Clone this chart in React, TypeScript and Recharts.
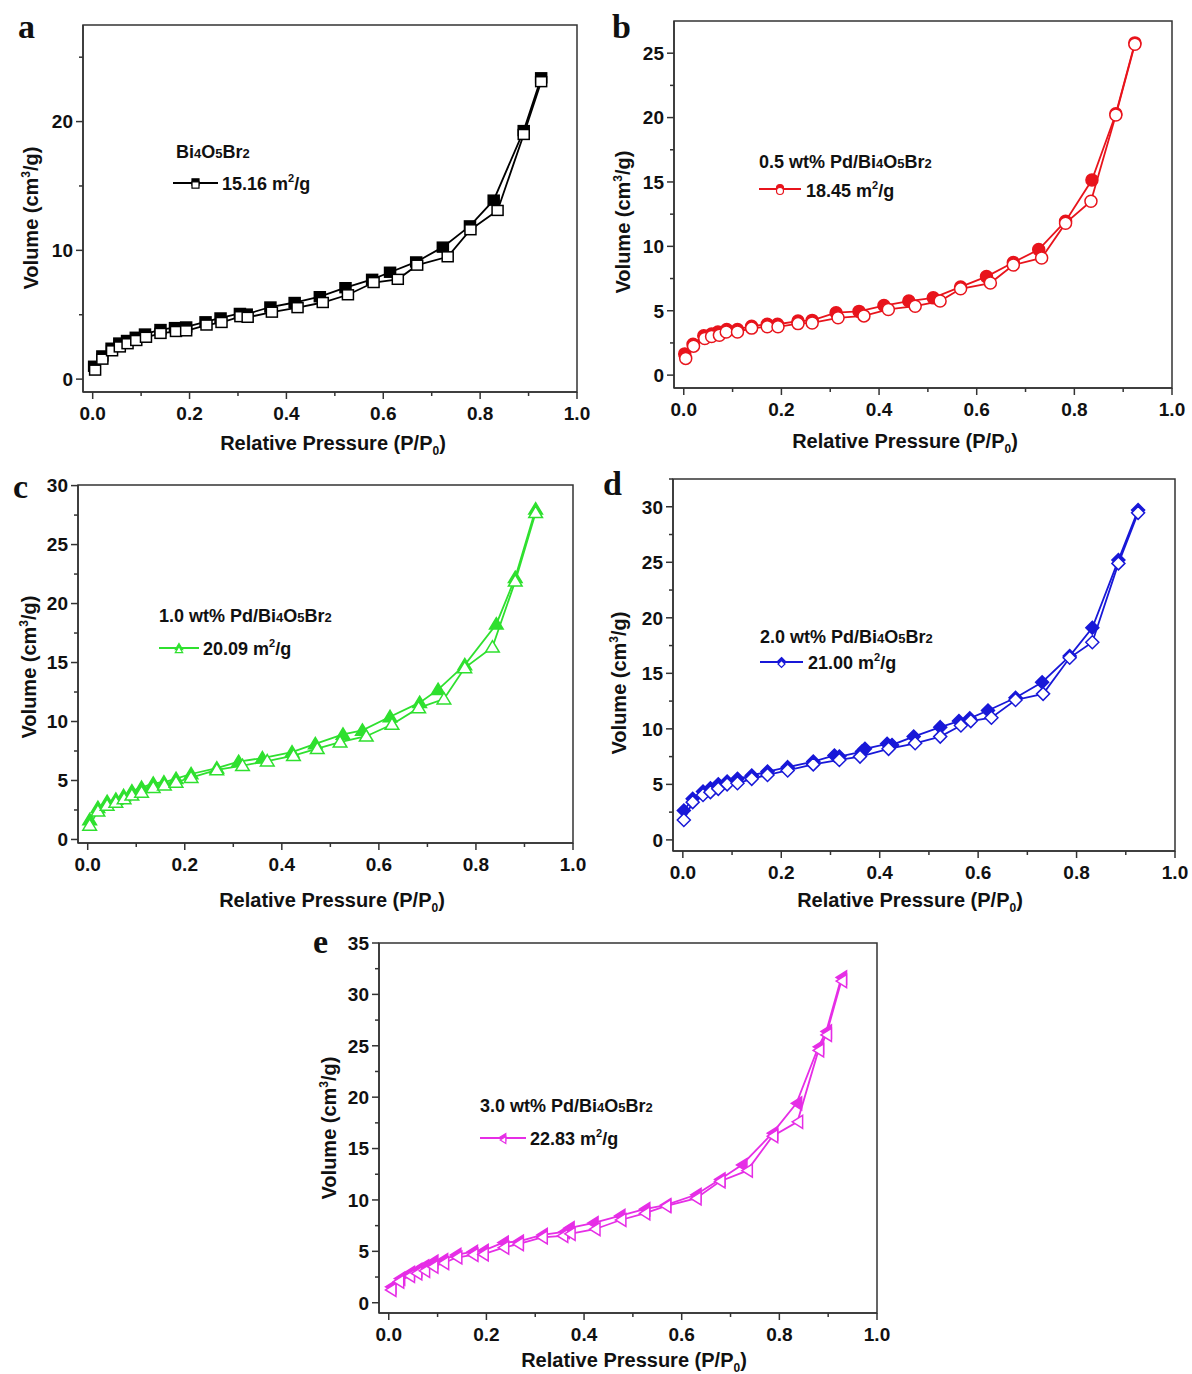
import React from 'react';
import { LineChart, Line, XAxis, YAxis, ReferenceArea } from 'recharts';

// ---------------- data (relative pressure P/P0, volume cm3/g) ----------------
const aFilledP = [0.003, 0.02, 0.039, 0.055, 0.071, 0.089, 0.108, 0.14, 0.17, 0.193, 0.233, 0.264, 0.304, 0.318, 0.367, 0.417, 0.469, 0.522, 0.577, 0.614, 0.668, 0.723, 0.779, 0.828, 0.89, 0.926];
const aFilledV = [1.0, 1.8, 2.4, 2.8, 3.0, 3.25, 3.5, 3.85, 4.0, 4.05, 4.45, 4.75, 5.1, 5.05, 5.6, 5.95, 6.4, 7.1, 7.75, 8.3, 9.1, 10.25, 11.9, 13.9, 19.3, 23.4];
const aOpenP = [0.005, 0.02, 0.04, 0.056, 0.072, 0.09, 0.11, 0.14, 0.172, 0.193, 0.235, 0.266, 0.305, 0.32, 0.37, 0.423, 0.475, 0.527, 0.58, 0.63, 0.67, 0.733, 0.78, 0.836, 0.89, 0.926];
const aOpenV = [0.7, 1.55, 2.2, 2.5, 2.75, 3.0, 3.25, 3.55, 3.7, 3.75, 4.2, 4.4, 4.85, 4.8, 5.2, 5.55, 5.95, 6.55, 7.5, 7.75, 8.85, 9.5, 11.6, 13.1, 19.0, 23.1];

const bFilledP = [0.002, 0.019, 0.041, 0.057, 0.07, 0.088, 0.11, 0.139, 0.171, 0.192, 0.234, 0.263, 0.312, 0.359, 0.41, 0.461, 0.511, 0.567, 0.62, 0.675, 0.727, 0.782, 0.836, 0.885, 0.924];
const bFilledV = [1.65, 2.4, 3.05, 3.2, 3.35, 3.55, 3.55, 3.8, 3.95, 3.95, 4.2, 4.25, 4.85, 4.95, 5.4, 5.75, 6.0, 6.85, 7.65, 8.75, 9.75, 11.95, 15.15, 20.3, 25.8];
const bOpenP = [0.004, 0.02, 0.043, 0.057, 0.073, 0.087, 0.11, 0.139, 0.171, 0.193, 0.234, 0.263, 0.316, 0.369, 0.419, 0.474, 0.525, 0.567, 0.628, 0.675, 0.733, 0.782, 0.834, 0.885, 0.924];
const bOpenV = [1.3, 2.25, 2.85, 3.0, 3.1, 3.35, 3.35, 3.65, 3.75, 3.75, 4.0, 4.05, 4.45, 4.6, 5.1, 5.35, 5.75, 6.7, 7.15, 8.55, 9.1, 11.8, 13.5, 20.2, 25.7];

const cFilledP = [0.004, 0.021, 0.04, 0.058, 0.074, 0.091, 0.111, 0.135, 0.157, 0.182, 0.213, 0.266, 0.311, 0.36, 0.421, 0.469, 0.526, 0.566, 0.623, 0.684, 0.722, 0.777, 0.842, 0.881, 0.923];
const cFilledV = [1.65, 2.7, 3.2, 3.4, 3.7, 4.1, 4.4, 4.75, 4.85, 5.15, 5.55, 6.05, 6.6, 6.9, 7.4, 8.1, 8.9, 9.25, 10.4, 11.6, 12.7, 14.8, 18.25, 22.2, 28.0];
const cOpenP = [0.004, 0.021, 0.04, 0.058, 0.075, 0.091, 0.111, 0.135, 0.158, 0.182, 0.213, 0.266, 0.319, 0.37, 0.424, 0.473, 0.52, 0.574, 0.627, 0.682, 0.734, 0.777, 0.834, 0.881, 0.923];
const cOpenV = [1.2, 2.4, 2.9, 3.15, 3.45, 3.75, 4.0, 4.4, 4.6, 4.85, 5.25, 5.9, 6.25, 6.65, 7.1, 7.7, 8.25, 8.75, 9.75, 11.15, 11.9, 14.55, 16.3, 21.9, 27.7];

const dFilledP = [0.002, 0.02, 0.041, 0.056, 0.072, 0.09, 0.111, 0.14, 0.172, 0.213, 0.265, 0.308, 0.318, 0.364, 0.37, 0.415, 0.425, 0.469, 0.523, 0.561, 0.583, 0.62, 0.676, 0.73, 0.786, 0.832, 0.885, 0.925];
const dFilledV = [2.65, 3.7, 4.35, 4.65, 5.0, 5.25, 5.5, 5.8, 6.15, 6.55, 7.05, 7.6, 7.5, 7.95, 8.2, 8.65, 8.55, 9.3, 10.15, 10.7, 10.95, 11.65, 12.8, 14.2, 16.55, 19.1, 25.2, 29.7];
const dOpenP = [0.002, 0.02, 0.041, 0.056, 0.072, 0.09, 0.111, 0.14, 0.172, 0.213, 0.265, 0.318, 0.36, 0.418, 0.472, 0.523, 0.565, 0.585, 0.627, 0.676, 0.732, 0.786, 0.832, 0.885, 0.925];
const dOpenV = [1.8, 3.4, 4.05, 4.3, 4.6, 5.0, 5.1, 5.5, 5.85, 6.25, 6.8, 7.2, 7.5, 8.2, 8.7, 9.3, 10.3, 10.7, 11.0, 12.6, 13.15, 16.4, 17.8, 24.9, 29.45];

const eFilledP = [0.004, 0.022, 0.042, 0.057, 0.071, 0.09, 0.11, 0.137, 0.171, 0.193, 0.234, 0.265, 0.314, 0.359, 0.369, 0.418, 0.473, 0.524, 0.567, 0.629, 0.678, 0.723, 0.786, 0.835, 0.88, 0.896, 0.927];
const eFilledV = [1.55, 2.35, 2.9, 3.2, 3.55, 4.0, 4.15, 4.65, 4.95, 5.05, 5.85, 5.95, 6.6, 6.9, 7.25, 7.75, 8.45, 9.1, 9.5, 10.5, 12.0, 13.4, 16.5, 19.4, 24.9, 26.4, 31.65];
const eOpenP = [0.004, 0.02, 0.042, 0.057, 0.073, 0.09, 0.112, 0.139, 0.172, 0.193, 0.235, 0.265, 0.314, 0.356, 0.371, 0.422, 0.475, 0.524, 0.567, 0.629, 0.678, 0.734, 0.786, 0.837, 0.88, 0.896, 0.927];
const eOpenV = [1.25, 2.05, 2.6, 2.85, 3.1, 3.5, 3.85, 4.4, 4.65, 4.7, 5.35, 5.7, 6.35, 6.5, 6.7, 7.15, 8.05, 8.7, 9.4, 10.15, 11.8, 12.85, 16.2, 17.6, 24.55, 26.05, 31.3];

// ---------------- ticks & labels ----------------
const pressureTicks = [0, 0.1, 0.2, 0.3, 0.4, 0.5, 0.6, 0.7, 0.8, 0.9, 1.0];
const aVolumeTicks = [0, 5, 10, 15, 20, 25];
const bVolumeTicks = [0, 2.5, 5, 7.5, 10, 12.5, 15, 17.5, 20, 22.5, 25];
const cVolumeTicks = [0, 2.5, 5, 7.5, 10, 12.5, 15, 17.5, 20, 22.5, 25, 27.5, 30];
const dVolumeTicks = [0, 2.5, 5, 7.5, 10, 12.5, 15, 17.5, 20, 22.5, 25, 27.5, 30, 32.5];
const eVolumeTicks = [0, 2.5, 5, 7.5, 10, 12.5, 15, 17.5, 20, 22.5, 25, 27.5, 30, 32.5, 35];

const panelLetters = ['a', 'b', 'c', 'd', 'e'];
const loadingPrefixes = ['', '0.5 wt% Pd/', '1.0 wt% Pd/', '2.0 wt% Pd/', '3.0 wt% Pd/'];
const surfaceAreas = ['15.16', '18.45', '20.09', '21.00', '22.83'];
const seriesColors = ['#000000', '#e8141c', '#2fe02f', '#1818d8', '#e62ee6'];

const zip = (ps: number[], vs: number[]) => ps.map((p, i) => ({ p, v: vs[i] }));

const AXIS = '#333333';
const SANS = '"Liberation Sans", Arial, Helvetica, sans-serif';
const SERIF = '"Liberation Serif", "Times New Roman", serif';

type Shape = 'square' | 'circle' | 'up' | 'diamond' | 'left';

function Marker({ cx, cy, shape, color, filled, size, sw = 1.5 }: { cx: number; cy: number; shape: Shape; color: string; filled: boolean; size: number; sw?: number }) {
  const fill = filled ? color : '#ffffff';
  const s = size / 2;
  const common = { fill, stroke: color, strokeWidth: sw };
  switch (shape) {
    case 'square':
      return <rect x={cx - s} y={cy - s * 0.9} width={size} height={size * 0.9} {...common} />;
    case 'circle':
      return <circle cx={cx} cy={cy} r={s} {...common} />;
    case 'up':
      return <polygon points={`${cx},${cy - s} ${cx + s * 1.05},${cy + s * 0.75} ${cx - s * 1.05},${cy + s * 0.75}`} {...common} />;
    case 'diamond':
      return <polygon points={`${cx},${cy - s} ${cx + s},${cy} ${cx},${cy + s} ${cx - s},${cy}`} {...common} />;
    case 'left':
    default:
      return <polygon points={`${cx - s * 0.8},${cy} ${cx + s * 0.8},${cy - s} ${cx + s * 0.8},${cy + s}`} {...common} />;
  }
}

function makeDot(shape: Shape, color: string, filled: boolean, size: number) {
  return (props: any) => {
    const { cx, cy, index } = props;
    if (cx == null || cy == null) return <g key={`n${index}`} />;
    return <Marker key={`m${index}`} cx={cx} cy={cy} shape={shape} color={color} filled={filled} size={size} />;
  };
}

function XTick(props: any) {
  const { x, y, payload } = props;
  const v = payload.value as number;
  const major = Math.abs(v * 5 - Math.round(v * 5)) < 1e-6;
  return (
    <g>
      <line x1={x} y1={y} x2={x} y2={y + (major ? 7 : 4)} stroke={AXIS} strokeWidth={1.5} />
      {major && (
        <text x={x} y={y + 28} textAnchor="middle" fontSize={19} fontWeight={700} fontFamily={SANS} fill="#111">
          {v.toFixed(1)}
        </text>
      )}
    </g>
  );
}

function makeYTick(step: number) {
  return (props: any) => {
    const { x, y, payload } = props;
    const v = payload.value as number;
    const major = Math.abs(v / step - Math.round(v / step)) < 1e-6;
    return (
      <g>
        <line x1={x} y1={y} x2={x - (major ? 7 : 4)} y2={y} stroke={AXIS} strokeWidth={1.5} />
        {major && (
          <text x={x - 10} y={y} dy="0.36em" textAnchor="end" fontSize={19} fontWeight={700} fontFamily={SANS} fill="#111">
            {String(v)}
          </text>
        )}
      </g>
    );
  };
}

function XTitle({ px, py }: any) {
  return (
    <text x={px} y={py} textAnchor="middle" fontSize={20} fontWeight={700} fontFamily={SANS} fill="#111">
      Relative Pressure (P/P<tspan fontSize={12} dy={5}>0</tspan><tspan dy={-5}>)</tspan>
    </text>
  );
}

function YTitle({ px, py }: any) {
  return (
    <text x={px} y={py} transform={`rotate(-90 ${px} ${py})`} textAnchor="middle" fontSize={20} fontWeight={700} fontFamily={SANS} fill="#111">
      Volume (cm<tspan fontSize={12} dy={-8}>3</tspan><tspan dy={8}>/g)</tspan>
    </text>
  );
}

type PanelCfg = {
  L: number; T: number; R: number; B: number;
  yDomain: [number, number]; yTicks: number[]; yMajor: number;
  shape: Shape; size: number;
  filled: { p: number; v: number }[]; open: { p: number; v: number }[];
  xTitle: { cx: number; y: number }; yTitle: { x: number; cy: number };
  letter: { x: number; y: number };
  legend: { tx: number; ty: number; x1: number; x2: number; ly: number; vx: number; vy: number };
};

const panels: PanelCfg[] = [
  {
    L: 83, T: 25, R: 577, B: 392, yDomain: [-1, 27.5], yTicks: aVolumeTicks, yMajor: 10,
    shape: 'square', size: 11, filled: zip(aFilledP, aFilledV), open: zip(aOpenP, aOpenV),
    xTitle: { cx: 333, y: 450 }, yTitle: { x: 38, cy: 218 }, letter: { x: 18, y: 38 },
    legend: { tx: 176, ty: 158, x1: 173, x2: 218, ly: 183, vx: 222, vy: 190 },
  },
  {
    L: 674, T: 21, R: 1172, B: 388, yDomain: [-1, 27.5], yTicks: bVolumeTicks, yMajor: 5,
    shape: 'circle', size: 12, filled: zip(bFilledP, bFilledV), open: zip(bOpenP, bOpenV),
    xTitle: { cx: 905, y: 448 }, yTitle: { x: 630, cy: 222 }, letter: { x: 612, y: 38 },
    legend: { tx: 759, ty: 168, x1: 759, x2: 801, ly: 189, vx: 806, vy: 197 },
  },
  {
    L: 78, T: 485, R: 573, B: 843, yDomain: [-0.3, 30.05], yTicks: cVolumeTicks, yMajor: 5,
    shape: 'up', size: 13, filled: zip(cFilledP, cFilledV), open: zip(cOpenP, cOpenV),
    xTitle: { cx: 332, y: 907 }, yTitle: { x: 36, cy: 667 }, letter: { x: 13, y: 498 },
    legend: { tx: 159, ty: 622, x1: 159, x2: 199, ly: 648, vx: 203, vy: 655 },
  },
  {
    L: 673, T: 479, R: 1175, B: 851, yDomain: [-1, 32.5], yTicks: dVolumeTicks, yMajor: 5,
    shape: 'diamond', size: 13, filled: zip(dFilledP, dFilledV), open: zip(dOpenP, dOpenV),
    xTitle: { cx: 910, y: 907 }, yTitle: { x: 626, cy: 683 }, letter: { x: 603, y: 495 },
    legend: { tx: 760, ty: 643, x1: 760, x2: 803, ly: 662, vx: 808, vy: 669 },
  },
  {
    L: 379, T: 943, R: 877, B: 1313, yDomain: [-1, 35], yTicks: eVolumeTicks, yMajor: 5,
    shape: 'left', size: 13, filled: zip(eFilledP, eFilledV), open: zip(eOpenP, eOpenV),
    xTitle: { cx: 634, y: 1367 }, yTitle: { x: 336, cy: 1128 }, letter: { x: 313, y: 953 },
    legend: { tx: 480, ty: 1112, x1: 480, x2: 526, ly: 1138, vx: 530, vy: 1145 },
  },
];

function Panel({ cfg, idx }: { cfg: PanelCfg; idx: number }) {
  const { L, T, R, B, yDomain, yTicks, yMajor, shape, size, filled, open, xTitle, yTitle } = cfg;
  const color = seriesColors[idx];
  const ox = L - 70;
  const oy = T - 30;
  const w = R - L + 100;
  const h = B - T + 120;
  return (
    <div style={{ position: 'absolute', left: ox, top: oy, width: w, height: h }}>
      <LineChart width={w} height={h} margin={{ top: 30, right: 30, bottom: 0, left: 0 }}>
        <XAxis
          dataKey="p" type="number" domain={[-0.02, 1]} allowDataOverflow ticks={pressureTicks} interval={0}
          tick={XTick} tickLine={false} tickSize={0} tickMargin={0} height={90}
          axisLine={{ stroke: AXIS, strokeWidth: 1.5 }}
          label={<XTitle px={xTitle.cx - ox} py={xTitle.y - oy} />}
        />
        <YAxis
          type="number" domain={yDomain} allowDataOverflow ticks={yTicks} interval={0}
          tick={makeYTick(yMajor)} tickLine={false} tickSize={0} tickMargin={0} width={70}
          axisLine={{ stroke: AXIS, strokeWidth: 1.5 }}
          label={<YTitle px={yTitle.x - ox} py={yTitle.cy - oy} />}
        />
        <ReferenceArea x1={-0.02} x2={1} y1={yDomain[0]} y2={yDomain[1]} fill="none" fillOpacity={0} stroke={AXIS} strokeWidth={1.5} ifOverflow="visible" />
        <Line data={filled} dataKey="v" stroke={color} strokeWidth={1.8} dot={makeDot(shape, color, true, size)} activeDot={false} isAnimationActive={false} />
        <Line data={open} dataKey="v" stroke={color} strokeWidth={1.8} dot={makeDot(shape, color, false, size)} activeDot={false} isAnimationActive={false} />
      </LineChart>
    </div>
  );
}

function Formula({ prefix }: { prefix: string }) {
  return (
    <>
      {prefix}Bi<tspan fontSize={13}>4</tspan>O<tspan fontSize={13}>5</tspan>Br<tspan fontSize={13}>2</tspan>
    </>
  );
}

function Overlay() {
  return (
    <svg width={1192} height={1374} style={{ position: 'absolute', left: 0, top: 0, pointerEvents: 'none' }}>
      {panels.map((cfg, i) => {
        const color = seriesColors[i];
        const lg = cfg.legend;
        const mx = (lg.x1 + lg.x2) / 2;
        return (
          <g key={i}>
            <text x={cfg.letter.x} y={cfg.letter.y} fontSize={34} fontWeight={700} fontFamily={SERIF} fill="#111">
              {panelLetters[i]}
            </text>
            <text x={lg.tx} y={lg.ty} fontSize={18} fontWeight={700} fontFamily={SANS} fill="#111">
              <Formula prefix={loadingPrefixes[i]} />
            </text>
            <line x1={lg.x1} y1={lg.ly} x2={lg.x2} y2={lg.ly} stroke={color} strokeWidth={2} />
            <Marker cx={mx} cy={lg.ly - 1} shape={cfg.shape} color={color} filled size={7} sw={1.2} />
            <Marker cx={mx} cy={lg.ly + 2} shape={cfg.shape} color={color} filled={false} size={7} sw={1.2} />
            <text x={lg.vx} y={lg.vy} fontSize={18} fontWeight={700} fontFamily={SANS} fill="#111">
              {surfaceAreas[i]} m<tspan fontSize={11} dy={-8}>2</tspan><tspan dy={8}>/g</tspan>
            </text>
          </g>
        );
      })}
    </svg>
  );
}

export default function App() {
  return (
    <div style={{ position: 'absolute', left: 0, top: 0, width: 1192, height: 1374, background: '#ffffff', overflow: 'hidden' }}>
      {panels.map((cfg, i) => (
        <Panel key={i} cfg={cfg} idx={i} />
      ))}
      <Overlay />
    </div>
  );
}
